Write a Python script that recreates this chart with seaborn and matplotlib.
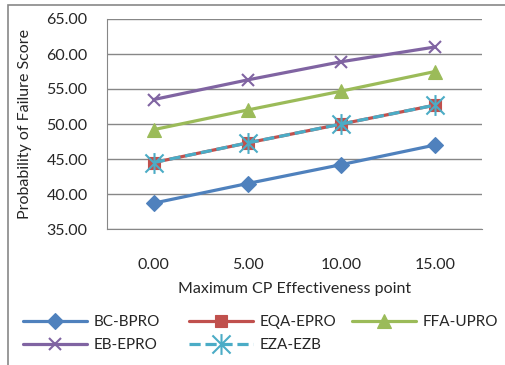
import matplotlib
matplotlib.use("Agg")
import matplotlib.pyplot as plt
import seaborn as sns
import pandas as pd
from matplotlib.patches import Rectangle
from matplotlib.path import Path

x_points = [0, 5, 10, 15]
x_labels = ["0.00", "5.00", "10.00", "15.00"]
bc_bpro = [38.7, 41.5, 44.2, 47.0]
eqa_epro = [44.5, 47.3, 50.0, 52.7]
ffa_upro = [49.2, 52.0, 54.7, 57.5]
eb_epro = [53.5, 56.3, 58.9, 61.0]
eza_ezb = [44.5, 47.3, 50.0, 52.7]
y_ticks = [35, 40, 45, 50, 55, 60, 65]

star = Path([(-1, -1), (1, 1), (-1, 1), (1, -1), (0, -1.15), (0, 1.15)],
            [Path.MOVETO, Path.LINETO, Path.MOVETO, Path.LINETO, Path.MOVETO, Path.LINETO])

series = [
    ("BC-BPRO", bc_bpro, "#4F81BD", "D", 8, "-"),
    ("EQA-EPRO", eqa_epro, "#C0504D", "s", 9, "-"),
    ("FFA-UPRO", ffa_upro, "#9BBB59", "^", 10, "-"),
    ("EB-EPRO", eb_epro, "#8064A2", "x", 9, "-"),
    ("EZA-EZB", eza_ezb, "#4BACC6", star, 15, (0, (3.5, 1.5))),
]

sns.set_style("white")
plt.rcParams["font.family"] = ["Lato", "DejaVu Sans"]

fig = plt.figure(figsize=(5.05, 3.65), dpi=100)
ax = fig.add_axes([107 / 505, 1 - 229 / 365, 375 / 505, 210 / 365])

for name, vals, color, marker, ms, ls in series:
    df = pd.DataFrame({"x": x_points, "y": vals})
    thin = isinstance(marker, Path) or marker == "x"
    sns.lineplot(data=df, x="x", y="y", ax=ax, color=color, marker=marker,
                 markersize=ms, linewidth=2.3, linestyle=ls, label=name,
                 markeredgecolor=color, markeredgewidth=1.5 if thin else 0.8)

ax.set_xlim(-2.5, 17.5)
ax.set_ylim(35, 65)
ax.set_yticks(y_ticks)
ax.set_yticklabels([f"{v:.2f}" for v in y_ticks], fontsize=11.5)
ax.set_xticks(x_points)
ax.set_xticklabels(x_labels, fontsize=11.5)
ax.tick_params(axis="x", pad=21, length=0)
ax.tick_params(axis="y", pad=14, length=0)
ax.grid(axis="y", color="#878787", linewidth=1)
ax.set_axisbelow(True)
for s in ["top", "right"]:
    ax.spines[s].set_visible(False)
ax.spines["left"].set_color("#878787")
ax.spines["bottom"].set_color("#878787")
ax.set_xlabel("Maximum CP Effectiveness point", fontsize=11.5, labelpad=7)
ax.set_ylabel("Probability of Failure Score", fontsize=11.5, labelpad=10)

handles, labels = ax.get_legend_handles_labels()
ax.get_legend().remove()
columns = [([0, 3], 23), ([1, 4], 189), ([2], 352)]
for idx, xpos in columns:
    fig.legend([handles[i] for i in idx], [labels[i] for i in idx],
               loc="upper left", bbox_to_anchor=(xpos / 505, 1 - 315 / 365),
               ncol=1, frameon=False, fontsize=11, handlelength=4.2,
               handletextpad=0.45, labelspacing=0.6, borderpad=0,
               borderaxespad=0)

fig.add_artist(Rectangle((8 / 505, -0.05), 1.2, 1 - 5 / 365 + 0.05,
                         transform=fig.transFigure, fill=False,
                         edgecolor="#878787", linewidth=1.2))

fig.savefig("out.png", dpi=100)
